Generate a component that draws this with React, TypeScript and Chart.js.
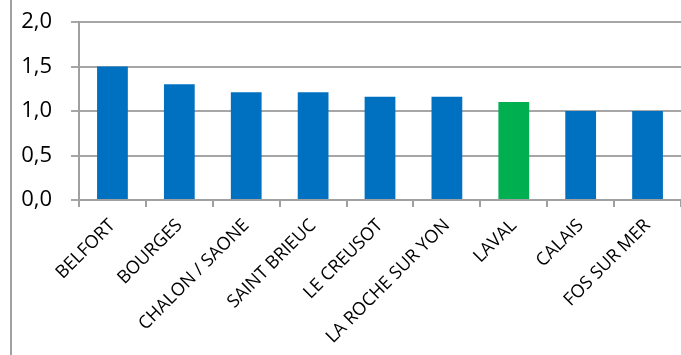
import React, { useEffect, useRef } from "react";
import { Chart, registerables } from "chart.js";

Chart.register(...registerables);

const categories = [
  "BELFORT",
  "BOURGES",
  "CHALON / SAONE",
  "SAINT BRIEUC",
  "LE CREUSOT",
  "LA ROCHE SUR YON",
  "LAVAL",
  "CALAIS",
  "FOS SUR MER",
];
const values = [1.5, 1.3, 1.21, 1.21, 1.16, 1.16, 1.1, 1.0, 1.0];
const barColors = [
  "#0070C0", "#0070C0", "#0070C0", "#0070C0", "#0070C0",
  "#0070C0", "#00B050", "#0070C0", "#0070C0",
];

const leftBorder = {
  id: "leftBorder",
  beforeDraw(chart: any) {
    const ctx = chart.ctx;
    ctx.save();
    ctx.fillStyle = "#ffffff";
    ctx.fillRect(0, 0, chart.width, chart.height);
    ctx.strokeStyle = "#a0a0a0";
    ctx.lineWidth = 2;
    ctx.beginPath();
    ctx.moveTo(11, 0);
    ctx.lineTo(11, chart.height);
    ctx.stroke();
    ctx.restore();
  },
};

export default function App() {
  const ref = useRef<HTMLCanvasElement>(null);
  useEffect(() => {
    if (!ref.current) return;
    const chart = new Chart(ref.current, {
      type: "bar",
      data: {
        labels: categories,
        datasets: [
          {
            data: values,
            backgroundColor: barColors,
            barPercentage: 0.46,
            categoryPercentage: 1,
          },
        ],
      },
      plugins: [leftBorder],
      options: {
        animation: false,
        responsive: false,
        maintainAspectRatio: false,
        layout: { autoPadding: false, padding: { top: 22, right: -4, left: 0, bottom: 0 } },
        plugins: { legend: { display: false }, tooltip: { enabled: false } },
        scales: {
          x: {
            afterFit: (s: any) => {
              s.height = 155;
              s.paddingTop = 0;
              s.paddingBottom = 0;
              s.paddingLeft = 0;
              s.paddingRight = 0;
            },
            grid: {
              offset: true,
              drawOnChartArea: false,
              drawTicks: true,
              tickLength: 7,
              color: "#a0a0a0",
              lineWidth: 2,
            },
            border: { display: true, color: "#a0a0a0", width: 2 },
            ticks: {
              minRotation: 45,
              maxRotation: 45,
              autoSkip: false,
              color: "#000000",
              padding: 8,
              font: { family: "Open Sans", size: 18 },
            },
          },
          y: {
            min: 0,
            max: 2,
            afterFit: (s: any) => {
              s.width = 79;
              s.paddingTop = 0;
              s.paddingBottom = 0;
            },
            grid: {
              color: "#a6a6a6",
              lineWidth: 2,
              tickLength: 8,
            },
            border: { display: true, color: "#a0a0a0", width: 2 },
            ticks: {
              stepSize: 0.5,
              color: "#000000",
              padding: 19,
              font: { family: "Open Sans", size: 22 },
              callback: (v: any) => Number(v).toFixed(1).replace(".", ","),
            },
          },
        },
      },
    });
    return () => chart.destroy();
  }, []);
  return (
    <div style={{ position: "fixed", left: 0, top: 0, width: 681, height: 355 }}>
      <canvas ref={ref} width={681} height={355} style={{ display: "block" }} />
    </div>
  );
}
